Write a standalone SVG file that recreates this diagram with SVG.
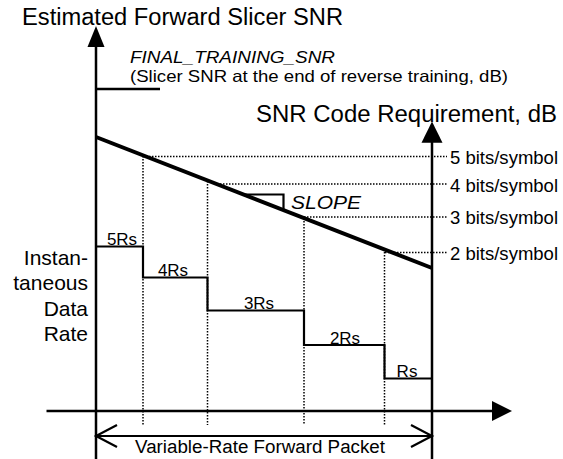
<svg xmlns="http://www.w3.org/2000/svg" width="563" height="459" viewBox="0 0 563 459">
<style>
text{font-family:"Liberation Sans",Arial,sans-serif;fill:#000}
.ax{stroke:#000;stroke-width:2.5;fill:none}
.st{stroke:#000;stroke-width:2.2;fill:none}
.dot{stroke:#000;stroke-width:1.5;stroke-dasharray:1.5 1.5;fill:none}
.lbl{font-size:18px}
.rs{font-size:17px;text-anchor:middle}
.it{font-style:italic}
.head{fill:#000;stroke:none}
</style>
<rect width="563" height="459" fill="#fff"/>
<g id="titles">
<text x="22" y="25" font-size="23.5" textLength="321" lengthAdjust="spacingAndGlyphs">Estimated Forward Slicer SNR</text>
<text x="256" y="121.5" font-size="23.5" textLength="301" lengthAdjust="spacingAndGlyphs">SNR Code Requirement, dB</text>
<text class="it" x="130" y="63" font-size="17" textLength="205" lengthAdjust="spacingAndGlyphs">FINAL_TRAINING_SNR</text>
<text x="130" y="82" font-size="16.5" textLength="378" lengthAdjust="spacingAndGlyphs">(Slicer SNR at the end of reverse training, dB)</text>
</g>
<g id="rate-label" font-size="21" text-anchor="end">
<text x="88" y="265">Instan-</text>
<text x="88" y="290">taneous</text>
<text x="88" y="315.5">Data</text>
<text x="88" y="340.5">Rate</text>
</g>
<g id="connectors">
<line class="ax" x1="96" y1="44" x2="96" y2="459"/>
<polygon class="head" points="96,26 104.5,47 87.5,47"/>
<line class="ax" x1="432" y1="140" x2="432" y2="459"/>
<polygon class="head" points="432,121.5 442.5,142.7 421.5,142.7"/>
<line class="ax" x1="46.5" y1="411" x2="495" y2="411"/>
<polygon class="head" points="512,411 492,401 492,421"/>
<line class="ax" x1="96" y1="89" x2="160" y2="89"/>
<line x1="96" y1="137" x2="432" y2="268" stroke="#000" stroke-width="4"/>
<path class="st" d="M245,194.5 H283.5 V209"/>
<path class="dot" d="M143,156.5 H447 M220,184 H447 M304,217 H447 M385,252.5 H447"/>
<path class="dot" d="M143,156 V425 M207.5,181 V425 M304,218 V425 M384.5,252 V425"/>
<path class="st" d="M96,246.5 H143 V277.5 H207.5 V310.5 H304 V345 H384.5 V378.5 H432"/>
<path class="st" d="M96,436 H432 M117,425 L96,436 L117,447 M411,425 L432,436 L411,447"/>
</g>
<g id="slope-label">
<text class="it" x="291" y="209.3" font-size="19" textLength="70" lengthAdjust="spacingAndGlyphs">SLOPE</text>
</g>
<g id="bits-labels" class="lbl">
<text x="450" y="164" textLength="108" lengthAdjust="spacingAndGlyphs">5 bits/symbol</text>
<text x="450" y="191.5" textLength="108" lengthAdjust="spacingAndGlyphs">4 bits/symbol</text>
<text x="450" y="224" textLength="108" lengthAdjust="spacingAndGlyphs">3 bits/symbol</text>
<text x="450" y="260" textLength="108" lengthAdjust="spacingAndGlyphs">2 bits/symbol</text>
</g>
<g id="rate-steps">
<text class="rs" x="122" y="245">5Rs</text>
<text class="rs" x="173" y="276">4Rs</text>
<text class="rs" x="259" y="309">3Rs</text>
<text class="rs" x="345" y="343.5">2Rs</text>
<text class="rs" x="407" y="377">Rs</text>
</g>
<g id="packet-label">
<text class="lbl" x="135" y="453" textLength="250" lengthAdjust="spacingAndGlyphs">Variable-Rate Forward Packet</text>
</g>
</svg>
